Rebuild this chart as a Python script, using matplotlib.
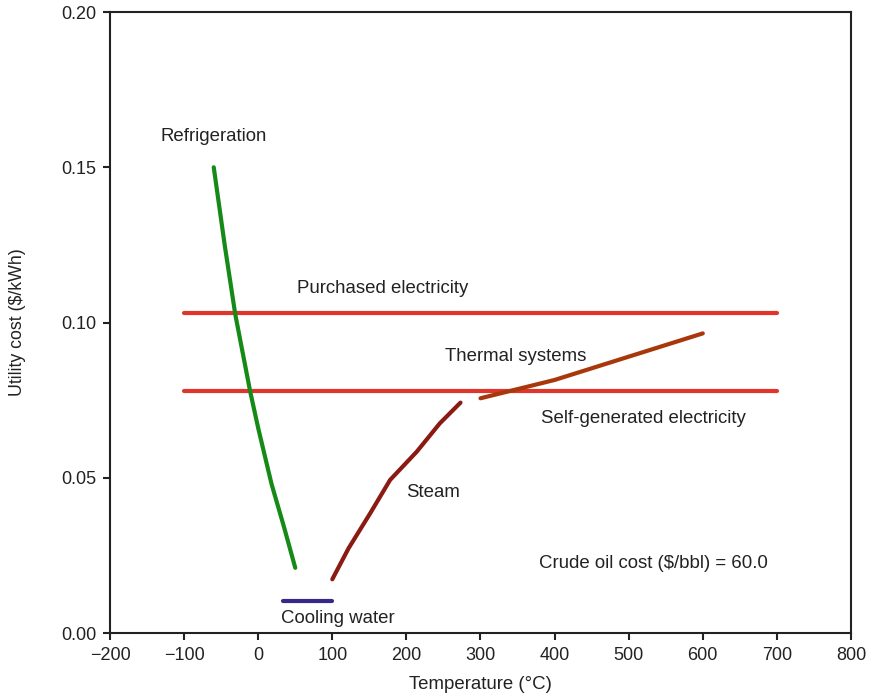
import numpy as np
import matplotlib
matplotlib.use("Agg")
import matplotlib.pyplot as plt

plt.rcParams['font.family'] = ['Liberation Sans', 'DejaVu Sans']

# utility cost curves ($/kWh) vs temperature (C)
refrig_t = [-60, -45, -31, -11, 0, 9, 18, 35, 50]
refrig_c = [0.150, 0.1246, 0.1027, 0.078, 0.066, 0.057, 0.048, 0.034, 0.021]

steam_t = [100, 122, 151, 178, 214, 245, 273]
steam_c = [0.0173, 0.0273, 0.0385, 0.0493, 0.0584, 0.0675, 0.0742]

thermal_t = [300, 400, 500, 600]
thermal_c = [0.0756, 0.0815, 0.089, 0.0965]

cooling_t = [34, 100]
cooling_c = [0.0104, 0.0104]

elec_t = [-100, 700]
purchased_c = 0.103
selfgen_c = 0.078

fig = plt.figure(figsize=(8.71, 6.99), dpi=100)
ax = fig.add_axes([0.1263, 0.0944, 0.977 - 0.1263, 0.9828 - 0.0944])

red = '#e0352b'
ax.plot(elec_t, [purchased_c, purchased_c], color=red, lw=3, solid_capstyle='round')
ax.plot(elec_t, [selfgen_c, selfgen_c], color=red, lw=3, solid_capstyle='round')
ax.plot(refrig_t, refrig_c, color='#168a16', lw=3, solid_capstyle='round', solid_joinstyle='round')
ax.plot(steam_t, steam_c, color='#8a1a12', lw=3, solid_capstyle='round', solid_joinstyle='round')
ax.plot(thermal_t, thermal_c, color='#a8380c', lw=3, solid_capstyle='round', solid_joinstyle='round')
ax.plot(cooling_t, cooling_c, color='#3a2888', lw=3, solid_capstyle='round')

tc = '#222222'
fs = 13.4
ax.text(-132, 0.160, 'Refrigeration', fontsize=fs, color=tc, va='center')
ax.text(52, 0.111, 'Purchased electricity', fontsize=fs, color=tc, va='center')
ax.text(252, 0.0892, 'Thermal systems', fontsize=fs, color=tc, va='center')
ax.text(381, 0.0692, 'Self-generated electricity', fontsize=fs, color=tc, va='center')
ax.text(199, 0.0454, 'Steam', fontsize=fs, color=tc, va='center')
ax.text(379, 0.0225, 'Crude oil cost ($/bbl) = 60.0', fontsize=fs, color=tc, va='center')
ax.text(31, 0.0048, 'Cooling water', fontsize=fs, color=tc, va='center')

ax.set_xlim(-200, 800)
ax.set_ylim(0, 0.20)
ax.set_xticks(np.arange(-200, 801, 100))
ax.set_yticks([0, 0.05, 0.10, 0.15, 0.20])
ax.set_xticklabels(['\u2212200' if v == -200 else ('\u2212100' if v == -100 else str(v))
                    for v in range(-200, 801, 100)])
ax.set_yticklabels(['0.00', '0.05', '0.10', '0.15', '0.20'])
ax.tick_params(direction='out', length=5, width=1.5, labelsize=13, colors=tc, pad=5)
for s in ax.spines.values():
    s.set_linewidth(1.5)
    s.set_color(tc)

ax.set_xlabel('Temperature (\u00b0C)', fontsize=13.4, color=tc)
ax.set_ylabel('Utility cost ($/kWh)', fontsize=12.8, color=tc)
ax.xaxis.set_label_coords(0.5, -0.069)
ax.yaxis.set_label_coords(-0.113, 0.5)

fig.savefig('out.png', dpi=100)
